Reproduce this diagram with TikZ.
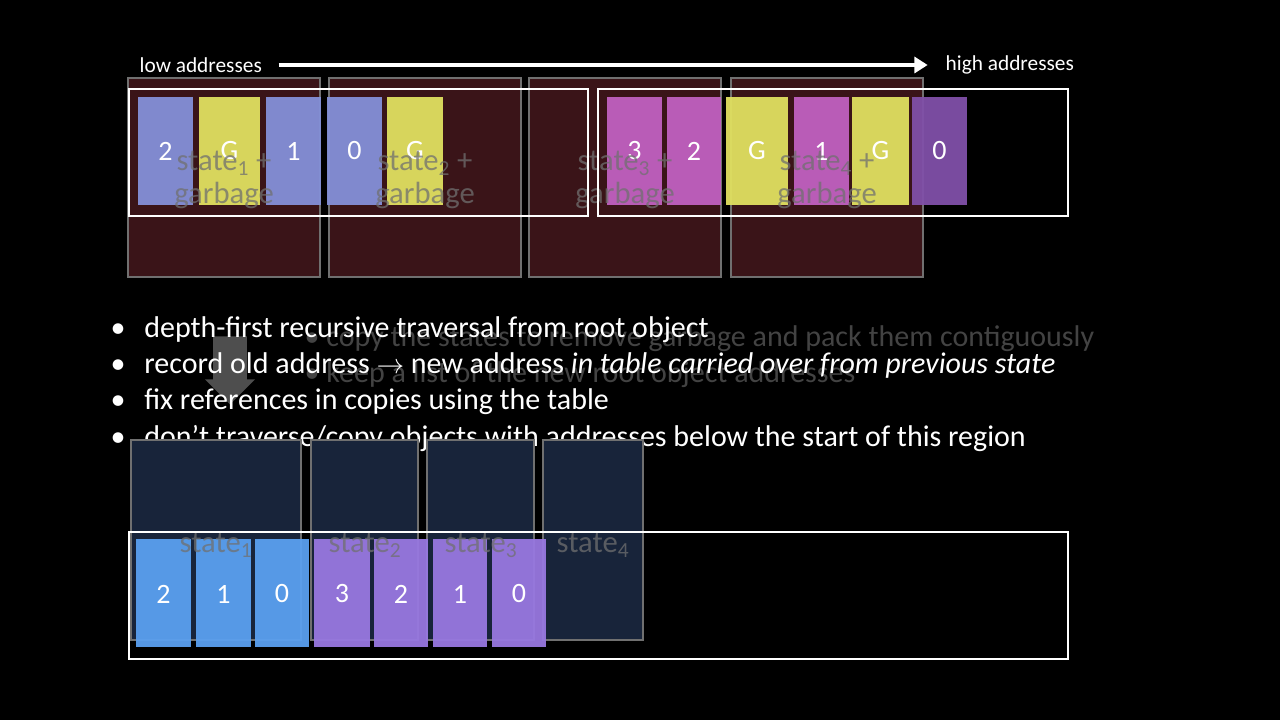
\documentclass[tikz,border=0pt]{standalone}
\usepackage{fontspec}
\setmainfont{Carlito}
\usetikzlibrary{arrows.meta,shapes.arrows}
\definecolor{maroon}{HTML}{3A1418}
\definecolor{navy}{HTML}{18243A}
\definecolor{cblue}{HTML}{8490D8}
\definecolor{cyel}{HTML}{E0E060}
\definecolor{cpink}{HTML}{C060C0}
\definecolor{cpurp}{HTML}{8050A8}
\definecolor{bblue}{HTML}{5AA0F0}
\definecolor{bpurp}{HTML}{9878E0}
\definecolor{ghost}{HTML}{707070}
\begin{document}
\begin{tikzpicture}[x=0.75pt,y=-0.75pt,
  region/.style={draw=ghost,line width=1.5pt},
  cell/.style={text=white,font=\fontsize{21}{21}\selectfont},
  ghosttxt/.style={text=ghost,font=\fontsize{23}{25}\selectfont,align=center},
  bul/.style={text=white,anchor=base west,font=\fontsize{22.5}{22.5}\selectfont},
  fbul/.style={text=ghost!60!black,anchor=base west,font=\fontsize{22.5}{22.5}\selectfont}]
\fill[black] (0,0) rectangle (1280,720);
\useasboundingbox (0,0) rectangle (1280,720);
% top regions
\foreach \a/\b [count=\i] in {128/320,329/521,529/721,731/923}
  \draw[region,fill=maroon] (\a,78) rectangle (\b,277);
% top cells
\foreach \a/\b/\c/\t [count=\i] in {138/193/cblue/2,199/260/cyel/G,266/321/cblue/1,327/382/cblue/0,387/443/cyel/G,607/662/cpink/3,667/721/cpink/2,726/788/cyel/G,794/849/cpink/1,852/909/cyel/G,912/967/cpurp/0}{
  \fill[\c,opacity=0.95] (\a,97) rectangle (\b,205);
  \node[cell] (t\i) at ({(\a+\b)/2},151) {\t};}
% ghost labels top
\foreach \x/\n [count=\i] in {224/1,425/2,625/3,827/4}
  \node[ghosttxt,opacity=0.75] (g\i) at (\x,180) {state\textsubscript{\n} +\\garbage};
\node[draw=white,line width=1.5pt,minimum width=459*0.75pt,minimum height=127*0.75pt,anchor=north west] (f1) at (128,88) {};
\node[draw=white,line width=1.5pt,minimum width=470*0.75pt,minimum height=127*0.75pt,anchor=north west] (f2) at (597,88) {};
% address axis
\node[text=white,font=\fontsize{16}{16}\selectfont,anchor=west] (lo) at (135,65) {low addresses};
\node[text=white,font=\fontsize{16}{16}\selectfont,anchor=west] (hi) at (941,65) {high addresses};
\draw[white,line width=3pt,-{Triangle[length=10pt,width=12pt]}] (lo.east)++(12,0) coordinate (s) (s) -- ([xshift=-10pt]hi.west);
% faded arrow + faded text
\node[single arrow,shape border rotate=270,fill=ghost!70!black,minimum height=68*0.75pt,minimum width=50*0.75pt,single arrow head extend=4pt,inner sep=8pt] (dn) at (230,362) {};
\node[fbul] (fa) at (300,346) {• copy the states to remove garbage and pack them contiguously};
\node[fbul] (fb) at (300,382) {• keep a list of the new root object addresses};
% bullets
\foreach \y/\t [count=\i] in {337/{depth-first recursive traversal from root object},373/{record old address \(\rightarrow\) new address \textit{in table carried over from previous state}},409/{fix references in copies using the table},446/{don’t traverse/copy objects with addresses below the start of this region}}{
  \node[bul] (d\i) at (106,\y) {•\hspace{14pt}\t};}
% bottom regions
\foreach \a/\b [count=\i] in {131/301,311/418,427/534,543/643}
  \draw[region,fill=navy] (\a,440) rectangle (\b,640);
\foreach \a/\b/\c/\t [count=\i] in {136/191/bblue/2,196/251/bblue/1,255/309/bblue/0,314/370/bpurp/3,374/428/bpurp/2,433/487/bpurp/1,492/546/bpurp/0}{
  \fill[\c,opacity=0.95] (\a,539) rectangle (\b,647);
  \node[cell] (b\i) at ({(\a+\b)/2},594) {\t};}
\foreach \x/\n [count=\i] in {216/1,365/2,481/3,593/4}
  \node[ghosttxt,opacity=0.75] (h\i) at (\x,545) {state\textsubscript{\n}};
\node[draw=white,line width=1.5pt,minimum width=939*0.75pt,minimum height=127*0.75pt,anchor=north west] (f3) at (128,531) {};
\end{tikzpicture}
\end{document}
